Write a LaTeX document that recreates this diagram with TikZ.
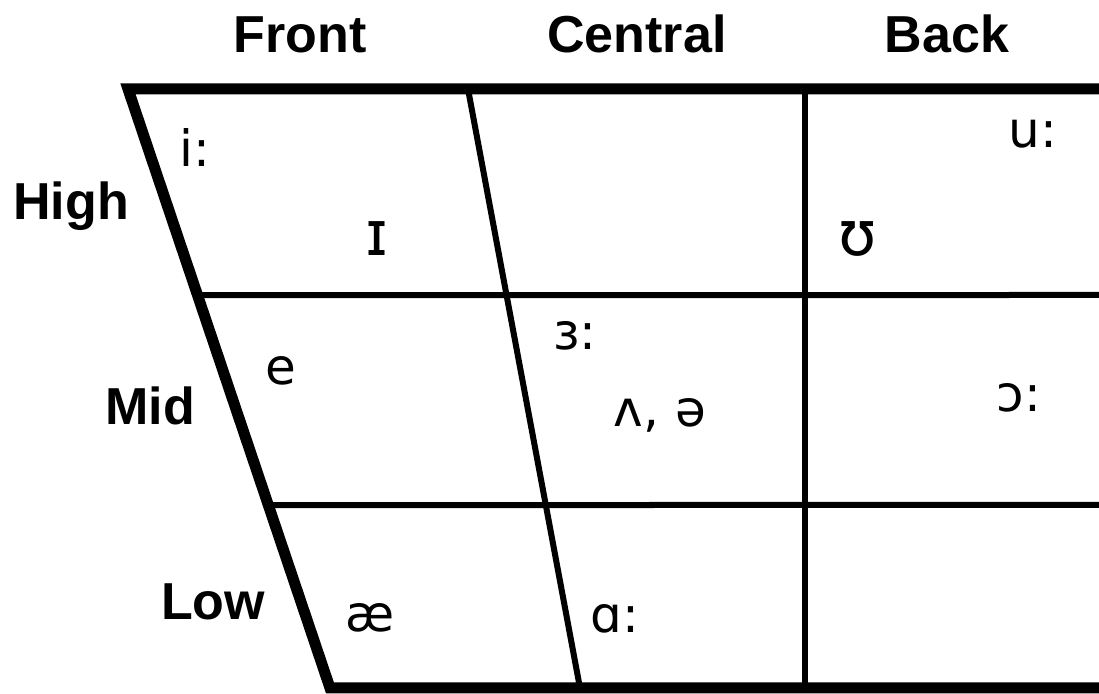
\documentclass[tikz,border=0pt]{standalone}
\usepackage{fontspec}
\setmainfont{Liberation Sans}
\newfontfamily\ipafont{DejaVu Sans}
\usetikzlibrary{calc}
\begin{document}
\begin{tikzpicture}[x=0.5pt,y=-0.5pt,
  thinline/.style={line width=3pt,black},
  thickline/.style={line width=5.5pt,black,line join=miter},
  head/.style={font=\fontsize{26}{30}\selectfont\bfseries,inner sep=0pt,anchor=base},
  vowel/.style={font=\ipafont\fontsize{25}{29}\selectfont,inner sep=0pt,anchor=base},
  bigvowel/.style={font=\ipafont\fontsize{31}{35}\selectfont,inner sep=0pt,anchor=base}]
\useasboundingbox[fill=white] (0,0) rectangle (1099,694);
% frame coordinates
\coordinate (TL) at (128,89);
\coordinate (TR) at (1110,89);
\coordinate (BL) at (330,688);
\coordinate (BR) at (1110,688);
\coordinate (CT) at (468,89);
\coordinate (CB) at (580,688);
\coordinate (KT) at (805,89);
\coordinate (KB) at (805,688);
\coordinate (H1L) at ($(TL)!0.344!(BL)$);
\coordinate (H1R) at (1110,295);
\coordinate (H2L) at ($(TL)!0.6945!(BL)$);
\coordinate (H2R) at (1110,505);
% thin grid lines
\draw[thinline] (CT) -- (CB);
\draw[thinline] (KT) -- (KB);
\draw[thinline] (H1L) -- (H1R);
\draw[thinline] (H2L) -- (H2R);
% thick outline
\draw[thickline] (TR) -- (TL) -- (BL) -- (BR);
% column headings
\node[head] (front) at (300,53) {Front};
\node[head] (central) at (637,53) {Central};
\node[head] (back) at (947,53) {Back};
% row headings
\node[head] (high) at (71,220) {High};
\node[head] (mid) at (150,425) {Mid};
\node[head] (low) at (213,620) {Low};
% vowels
\node[vowel] (ii) at (195,167) {i:};
\node[bigvowel] (ih) at (377,256) {ɪ};
\node[bigvowel] (uh) at (858,256) {ʊ};
\node[vowel] (uu) at (1033,148) {u:};
\node[vowel] (e) at (281,385) {e};
\node[vowel] (er) at (575,350) {ɜ:};
\node[vowel] (ah) at (660,427) {ʌ, ə};
\node[vowel] (oo) at (1019,412) {ɔ:};
\node[vowel] (ae) at (370,632) {æ};
\node[vowel] (aa) at (615,633) {ɑ:};
\end{tikzpicture}
\end{document}
